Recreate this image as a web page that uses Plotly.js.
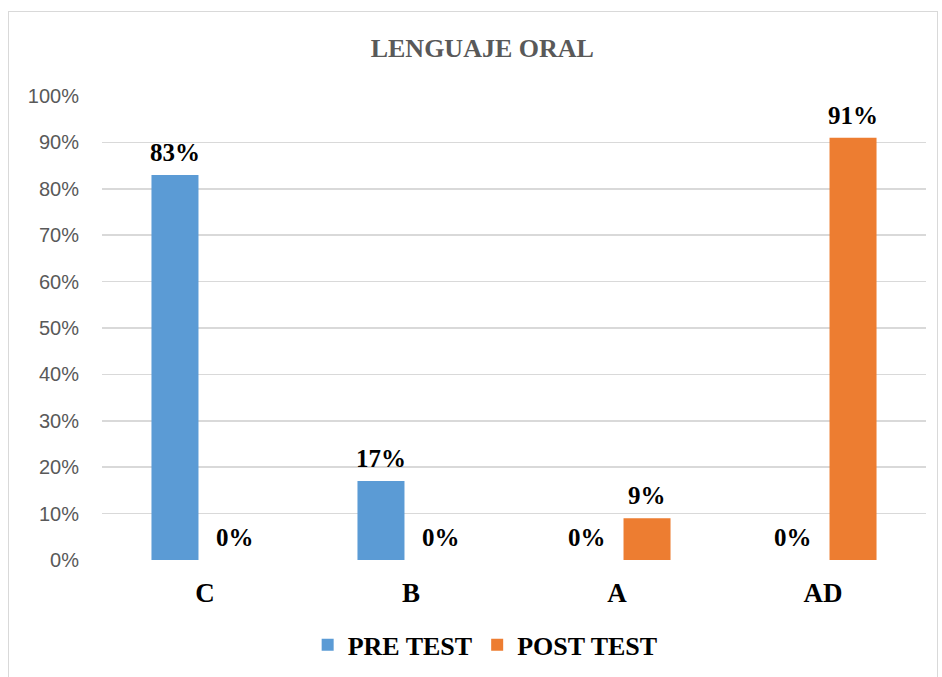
<!DOCTYPE html>
<html>
<head>
<meta charset="utf-8">
<script src="https://cdn.plot.ly/plotly-3.0.1.min.js"></script>
<style>
  html, body { margin: 0; padding: 0; background: #fff; }
  #wrap { position: relative; width: 942px; height: 677px; }
  #chart { position: absolute; left: 0; top: 0; width: 942px; height: 677px; }
  #frame { position: absolute; left: 8px; top: 11px; width: 928px; height: 670px; border: 1.5px solid #d9d9d9; pointer-events: none; }
</style>
</head>
<body>
<div id="wrap">
  <div id="chart"></div>
  <div id="frame"></div>
</div>
<script>
const categories = ['C', 'B', 'A', 'AD'];
const preTest = [0.83, 0.17, 0, 0];
const postTest = [0, 0, 0.09, 0.91];
const seriesNames = ['PRE TEST', 'POST TEST'];
const yTickVals = [0, 0.1, 0.2, 0.3, 0.4, 0.5, 0.6, 0.7, 0.8, 0.9, 1.0];

const serif = 'Liberation Serif, Times New Roman, serif';
const colors = ['#5B9BD5', '#ED7D31'];

const traces = [preTest, postTest].map((vals, i) => ({
  type: 'bar',
  name: seriesNames[i],
  x: categories,
  y: vals,
  marker: { color: colors[i] },
  hoverinfo: 'skip'
}));

const annotations = [];
[preTest, postTest].forEach((vals, i) => {
  vals.forEach((v, j) => {
    annotations.push({
      x: categories[j], y: v, xref: 'x', yref: 'y',
      text: '<b>' + Math.round(v * 100) + '%</b>',
      showarrow: false,
      xshift: i === 0 ? -30 : 30,
      yanchor: 'bottom', yshift: 7,
      font: { family: serif, size: 25, color: '#000' }
    });
  });
});

const layout = {
  width: 942, height: 677,
  margin: { l: 102, r: 16, t: 96, b: 117, autoexpand: false },
  paper_bgcolor: 'rgba(0,0,0,0)',
  plot_bgcolor: 'rgba(0,0,0,0)',
  title: {
    text: '<b>LENGUAJE ORAL</b>',
    font: { family: serif, size: 26, color: '#595959' },
    xref: 'container', x: 0.512, xanchor: 'center',
    yref: 'container', y: 0.929, yanchor: 'middle'
  },
  barmode: 'group',
  bargap: 0.417,
  bargroupgap: 0.217,
  showlegend: true,
  legend: {
    orientation: 'h',
    x: 0.465, xanchor: 'center', xref: 'paper',
    y: -0.183, yanchor: 'middle',
    font: { family: serif, size: 26, color: '#000', weight: 'bold' },
    itemwidth: 30,
    traceorder: 'normal'
  },
  xaxis: {
    type: 'category',
    showgrid: false,
    showline: false,
    zeroline: false,
    ticks: '',
    tickfont: { family: serif, size: 27, color: '#000', weight: 'bold' },
    ticklabelstandoff: 14
  },
  yaxis: {
    range: [0, 1],
    tickvals: yTickVals,
    tickformat: '.0%',
    showgrid: true,
    gridcolor: '#d9d9d9',
    gridwidth: 1.5,
    zeroline: false,
    showline: false,
    ticks: '',
    ticklabelstandoff: 22,
    tickfont: { family: 'Liberation Sans, Arial, sans-serif', size: 20, color: '#595959' }
  },
  annotations: annotations
};

Plotly.newPlot('chart', traces, layout, { displayModeBar: false, staticPlot: true });
</script>
</body>
</html>
